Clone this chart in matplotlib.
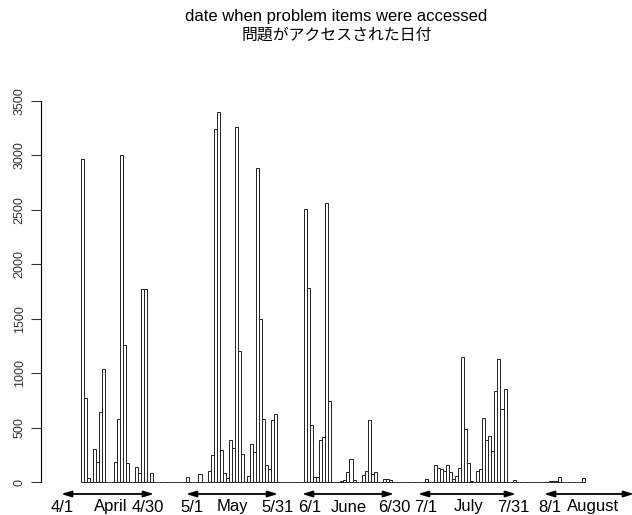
import matplotlib
matplotlib.use("Agg")
import matplotlib.pyplot as plt
import numpy as np

plt.rcParams['font.family'] = ['Liberation Sans', 'Noto Sans CJK JP', 'DejaVu Sans']

# counts per bin (first bin = first bar on the left)
counts = [
    2970, 775, 35, 0, 300, 180, 640, 1035, 0, 0,
    0, 185, 580, 3000, 1255, 170, 0, 0, 140, 85,
    1770, 1770, 0, 80, 0, 0, 0, 0, 0, 0,
    0, 0, 0, 0, 0, 45, 0, 0, 0, 75,
    0, 0, 105, 245, 3240, 3395, 290, 80, 40, 385,
    310, 3260, 1205, 255, 0, 55, 345, 275, 2880, 1500,
    580, 155, 120, 570, 625, 0, 0, 0, 0, 0,
    0, 0, 0, 0, 2510, 1780, 525, 45, 45, 385,
    410, 2560, 745, 0, 0, 0, 10, 15, 95, 210,
    15, 0, 0, 65, 105, 570, 75, 95, 0, 0,
    28, 28, 20, 0, 0, 0, 0, 0, 0, 0,
    0, 0, 0, 0, 27, 0, 0, 156, 125, 119,
    101, 156, 89, 30, 55, 131, 1150, 483, 177, 5,
    0, 104, 116, 584, 385, 422, 287, 834, 1134, 675,
    853, 0, 0, 20, 0, 0, 0, 0, 0, 0,
    0, 0, 0, 0, 0, 8, 8, 8, 43, 0,
    0, 0, 0, 0, 0, 0, 40,
]

months = ['April', 'May', 'June', 'July', 'August']
first_days = ['4/1', '5/1', '6/1', '7/1', '8/1']
last_days = ['4/30', '5/31', '6/30', '7/31', None]
yticks = [0, 500, 1000, 1500, 2000, 2500, 3000, 3500]

title_en = 'date when problem items were accessed'
title_ja = '問題がアクセスされた日付'

# bar geometry in pixels: first bar left edge and width of one bin
x0_px, bin_px = 80.7, 3.02


def px2bin(p):
    return (p - x0_px) / bin_px


# where the month annotations sit (pixels from the left)
arrow_span = [(61, 154), (186, 278), (302, 394), (418, 516), (544, 634)]
pos_first = [62, 192, 310, 426, 550]
pos_month = [111, 232, 349, 469, 593]
pos_last = [148, 278, 394, 513, None]

W, H = 632, 515
fig = plt.figure(figsize=(W / 100, H / 100), dpi=100)
ax = fig.add_axes([41 / W, (H - 482) / H, (632 - 41) / W, (482 - 101) / H])

x = np.arange(len(counts))
ax.bar(x, counts, width=1, align='edge', color='white', edgecolor='#222222',
       linewidth=0.7, clip_on=False)

ax.set_xlim(px2bin(41), px2bin(632))
ax.set_ylim(0, 3500)
for s in ['top', 'right', 'bottom']:
    ax.spines[s].set_visible(False)
ax.spines['left'].set_bounds(0, 3500)
ax.spines['left'].set_linewidth(0.8)
ax.set_xticks([])
ax.set_yticks(yticks)
ax.set_yticklabels([str(v) for v in yticks], rotation=90, va='center')
ax.tick_params(axis='y', length=7, width=0.8, pad=4, labelsize=9, colors='#333333')

# month arrows and labels under the bars
arrow_y = (H - 494) / H
label_y = (H - 507) / H
for i, m in enumerate(months):
    a, b = arrow_span[i]
    ax.annotate('', xy=(px2bin(b), arrow_y), xytext=(px2bin(a), arrow_y),
                xycoords=('data', 'figure fraction'), textcoords=('data', 'figure fraction'),
                arrowprops=dict(arrowstyle='<|-|>,head_length=0.6,head_width=0.18',
                                color='black', lw=1.3, shrinkA=0, shrinkB=0),
                annotation_clip=False)
    for txt, p in [(first_days[i], pos_first[i]), (m, pos_month[i]), (last_days[i], pos_last[i])]:
        if txt is None:
            continue
        ax.annotate(txt, xy=(px2bin(p), label_y), xycoords=('data', 'figure fraction'),
                    ha='center', va='center', fontsize=12, annotation_clip=False)

fig.text(336.5 / W, 1 - 16 / H, title_en, ha='center', va='center', fontsize=12)
fig.text(336.5 / W, 1 - 35 / H, title_ja, ha='center', va='center', fontsize=11.4)

fig.savefig('out.png', dpi=100)
